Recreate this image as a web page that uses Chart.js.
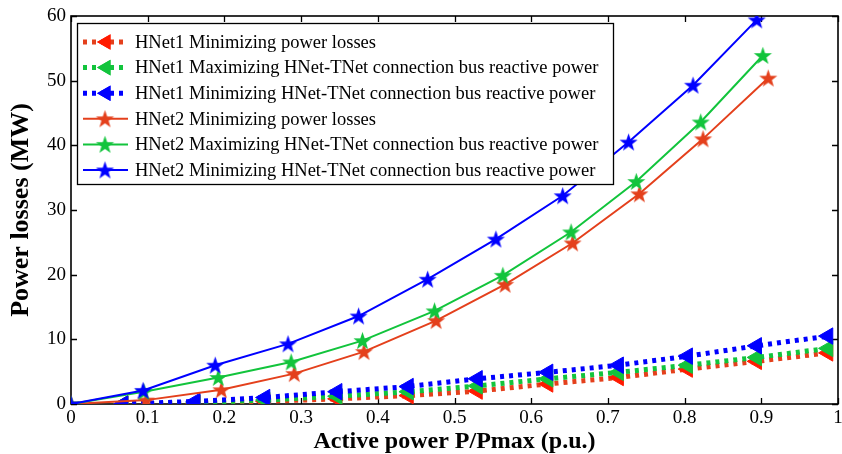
<!DOCTYPE html>
<html>
<head>
<meta charset="utf-8">
<script src="https://cdn.jsdelivr.net/npm/chart.js@4.4.0/dist/chart.umd.min.js"></script>
<style>body{margin:0;background:#fff}</style>
</head>
<body>
<canvas id="lossChart" width="842" height="454"></canvas>
<script>
// tick labels
const xTickValues = [0, 0.1, 0.2, 0.3, 0.4, 0.5, 0.6, 0.7, 0.8, 0.9, 1];
const yTickValues = [0, 10, 20, 30, 40, 50, 60];

// HNet1 (dotted, triangles) - shared P/Pmax points
const hnet1X = [0.068, 0.162, 0.253, 0.347, 0.440, 0.530, 0.622, 0.714, 0.804, 0.894, 0.987];
const hnet1MinLoss = [0, 0.1, 0.4, 0.8, 1.3, 2.0, 3.1, 4.1, 5.4, 6.6, 7.9];
const hnet1MaxQ = [0, 0.2, 0.6, 1.2, 1.9, 2.8, 3.9, 4.9, 6.0, 7.2, 8.6];
const hnet1MinQ = [0, 0.4, 1.0, 1.9, 2.7, 3.9, 4.9, 6.0, 7.4, 9.0, 10.5];

// HNet2 (solid, stars)
const hnet2LossX = [0, 0.098, 0.196, 0.291, 0.382, 0.476, 0.566, 0.654, 0.741, 0.824, 0.909];
const hnet2MinLoss = [0, 0.6, 2.2, 4.7, 8.1, 12.9, 18.5, 24.9, 32.5, 41.0, 50.4];
const hnet2MaxQX = [0, 0.095, 0.192, 0.287, 0.380, 0.474, 0.563, 0.652, 0.737, 0.821, 0.902];
const hnet2MaxQ = [0, 1.9, 4.1, 6.5, 9.8, 14.4, 19.9, 26.6, 34.4, 43.6, 53.9];
const hnet2MinQX = [0, 0.094, 0.188, 0.283, 0.375, 0.465, 0.554, 0.641, 0.727, 0.811, 0.894];
const hnet2MinQ = [0, 2.1, 6.0, 9.3, 13.6, 19.3, 25.5, 32.2, 40.5, 49.3, 59.4];

const seriesLabels = [
    'HNet1 Minimizing power losses',
    'HNet1 Maximizing HNet-TNet connection bus reactive power',
    'HNet1 Minimizing HNet-TNet connection bus reactive power',
    'HNet2 Minimizing power losses',
    'HNet2 Maximizing HNet-TNet connection bus reactive power',
    'HNet2 Minimizing HNet-TNet connection bus reactive power'
];

const FONT = "'Liberation Serif', 'Times New Roman', serif";
const RED = '#e4401c', RED_MARK = '#ff1a00', GREEN = '#12c43c', BLUE = '#0000ff';

// five pointed star marker (matlab pentagram look)
function makeStar(color, r) {
    const c = document.createElement('canvas');
    const size = Math.ceil(2 * r + 2);
    c.width = size; c.height = size;
    const g = c.getContext('2d');
    const cx = size / 2, cy = size / 2 + 0.8;
    g.beginPath();
    for (let i = 0; i < 10; i++) {
        const rad = i % 2 === 0 ? r : r * 0.4;
        const a = -Math.PI / 2 + i * Math.PI / 5;
        const px = cx + rad * Math.cos(a), py = cy + rad * Math.sin(a);
        i === 0 ? g.moveTo(px, py) : g.lineTo(px, py);
    }
    g.closePath();
    g.fillStyle = color;
    g.fill();
    return c;
}

function toPoints(xs, ys) {
    return xs.map((x, i) => ({ x: x, y: ys[i] }));
}

function dottedSet(label, xs, ys, lineColor, markColor, order) {
    return {
        label: label, data: toPoints(xs, ys), order: order,
        borderColor: lineColor, borderWidth: 5, borderDash: [4, 5],
        pointStyle: 'triangle', rotation: -90, pointRadius: 9.5,
        pointBackgroundColor: markColor, pointBorderColor: markColor, pointBorderWidth: 1,
        tension: 0, fill: false
    };
}

function solidSet(label, xs, ys, color, order) {
    return {
        label: label, data: toPoints(xs, ys), order: order,
        borderColor: color, borderWidth: 2,
        pointStyle: makeStar(color, 9.5), pointRadius: 9,
        tension: 0, fill: false
    };
}

const framePlugin = {
    id: 'frame',
    beforeDatasetsDraw(chart) {
        const { ctx, chartArea: a, scales: { x, y } } = chart;
        ctx.save();
        ctx.strokeStyle = '#000';
        ctx.lineWidth = 1.3;
        ctx.beginPath();
        xTickValues.forEach(v => {
            const px = Math.round(x.getPixelForValue(v)) + 0.5;
            ctx.moveTo(px, a.bottom); ctx.lineTo(px, a.bottom - 6);
            ctx.moveTo(px, a.top); ctx.lineTo(px, a.top + 6);
        });
        yTickValues.forEach(v => {
            const py = Math.round(y.getPixelForValue(v)) + 0.5;
            ctx.moveTo(a.left, py); ctx.lineTo(a.left + 6, py);
            ctx.moveTo(a.right, py); ctx.lineTo(a.right - 6, py);
        });
        ctx.stroke();
        ctx.lineWidth = 1.6;
        ctx.strokeRect(a.left, a.top, a.right - a.left, a.bottom - a.top);
        ctx.restore();
    }
};

// legend with line + marker like the original figure
const boxLegend = {
    id: 'boxLegend',
    afterDraw(chart) {
        const ctx = chart.ctx;
        const bx = 77, by = 23, bw = 536, bh = 161;
        ctx.save();
        ctx.fillStyle = '#fff';
        ctx.fillRect(bx, by, bw, bh);
        ctx.strokeStyle = '#000';
        ctx.lineWidth = 1.3;
        ctx.strokeRect(bx + 0.5, by + 0.5, bw, bh);
        chart.data.datasets.forEach((ds, i) => {
            const yy = by + 19 + i * 25.6;
            ctx.save();
            ctx.strokeStyle = ds.borderColor;
            ctx.lineWidth = ds.borderWidth;
            ctx.setLineDash(ds.borderDash || []);
            ctx.beginPath();
            ctx.moveTo(83, yy); ctx.lineTo(128, yy);
            ctx.stroke();
            ctx.restore();
            if (ds.pointStyle === 'triangle') {
                ctx.fillStyle = ds.pointBackgroundColor;
                Chart.helpers.drawPoint(ctx, { pointStyle: 'triangle', rotation: -90, radius: 9, borderWidth: 0 }, 106, yy);
                ctx.fill();
            } else {
                const img = ds.pointStyle;
                ctx.drawImage(img, 105 - img.width / 2, yy - img.height / 2);
            }
            ctx.fillStyle = '#000';
            ctx.font = '18.5px ' + FONT;
            ctx.textBaseline = 'middle';
            ctx.fillText(ds.label, 135, yy + 1);
        });
        ctx.restore();
    }
};

const ctx = document.getElementById('lossChart').getContext('2d');
new Chart(ctx, {
    type: 'line',
    data: {
        datasets: [
            dottedSet(seriesLabels[0], hnet1X, hnet1MinLoss, RED, RED_MARK, 6),
            dottedSet(seriesLabels[1], hnet1X, hnet1MaxQ, GREEN, GREEN, 5),
            dottedSet(seriesLabels[2], hnet1X, hnet1MinQ, BLUE, BLUE, 4),
            solidSet(seriesLabels[3], hnet2LossX, hnet2MinLoss, RED, 3),
            solidSet(seriesLabels[4], hnet2MaxQX, hnet2MaxQ, GREEN, 2),
            solidSet(seriesLabels[5], hnet2MinQX, hnet2MinQ, BLUE, 1)
        ]
    },
    options: {
        responsive: false,
        animation: false,
        layout: { autoPadding: false, padding: { left: 0, right: 4, top: 16, bottom: 0 } },
        plugins: {
            legend: { display: false },
            tooltip: { enabled: false }
        },
        scales: {
            x: {
                type: 'linear', min: 0, max: 1,
                grid: { display: false, drawTicks: false },
                border: { display: false },
                afterBuildTicks: s => { s.ticks = xTickValues.map(v => ({ value: v })); },
                afterFit: s => { s.height = 50; s.paddingLeft = 0; s.paddingRight = 0; },
                ticks: {
                    autoSkip: false, maxRotation: 0, padding: 3,
                    color: '#000', font: { family: FONT, size: 19 },
                    callback: v => String(v)
                },
                title: {
                    display: true, text: 'Active power P/Pmax (p.u.)', color: '#000',
                    font: { family: FONT, size: 24, weight: 'bold' },
                    padding: { top: 0, bottom: -2 }
                }
            },
            y: {
                min: 0, max: 60,
                grid: { display: false, drawTicks: false },
                border: { display: false },
                afterBuildTicks: s => { s.ticks = yTickValues.map(v => ({ value: v })); },
                afterFit: s => { s.width = 71; s.paddingTop = 0; s.paddingBottom = 0; },
                ticks: {
                    padding: 5, color: '#000', font: { family: FONT, size: 19 }
                },
                title: {
                    display: true, text: 'Power losses (MW)', color: '#000',
                    font: { family: FONT, size: 26, weight: 'bold' },
                    padding: { top: 6, bottom: 0 }
                }
            }
        }
    },
    plugins: [framePlugin, boxLegend]
});
</script>
</body>
</html>
